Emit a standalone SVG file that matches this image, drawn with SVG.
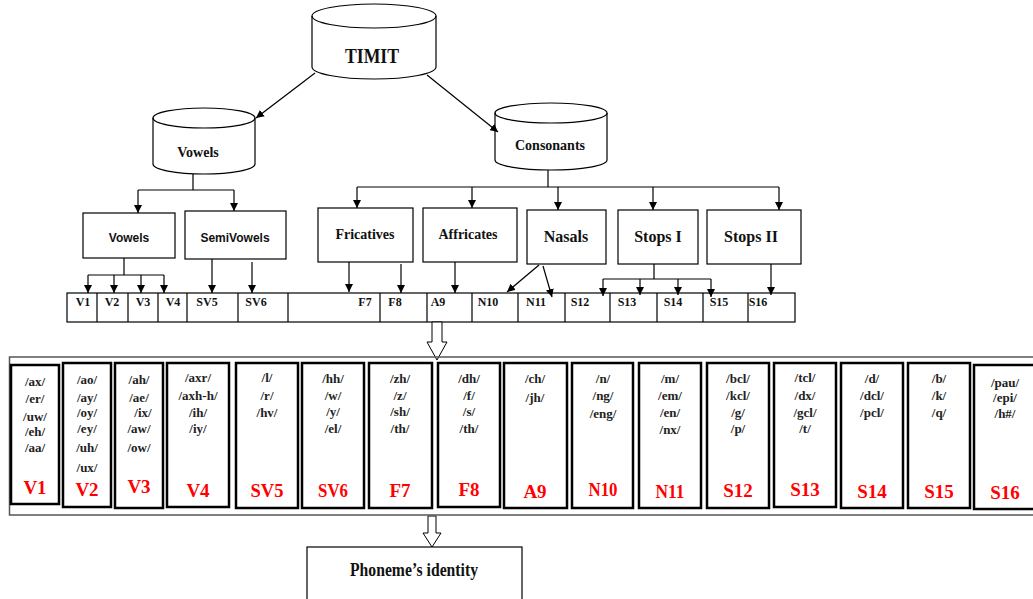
<svg xmlns="http://www.w3.org/2000/svg" width="1033" height="599" viewBox="0 0 1033 599">
<style>
.ln{stroke:#000;stroke-width:1.2;fill:none}
.ar{stroke:#000;stroke-width:1.2;fill:none;marker-end:url(#ah)}
.shp{fill:#fff;stroke:#000;stroke-width:1.2}
.t{font-family:"Liberation Serif","Times New Roman",serif;font-weight:bold;fill:#111;text-anchor:middle}
.s{font-family:"Liberation Sans",Arial,sans-serif;font-weight:bold;fill:#111;text-anchor:middle;font-size:12px}
.cell{font-family:"Liberation Serif","Times New Roman",serif;font-weight:bold;fill:#111;font-size:12px;text-anchor:middle}
.ph{font-family:"Liberation Serif","Times New Roman",serif;font-weight:bold;fill:#222;font-size:13px;text-anchor:middle}
.red{font-family:"Liberation Serif","Times New Roman",serif;font-weight:bold;fill:#ff0000;font-size:19px;text-anchor:middle}
.ib{fill:#fff;stroke:#000;stroke-width:2.5}
.hollow{fill:#fff;stroke:#000;stroke-width:1}
</style>
<defs>
<marker id="ah" viewBox="0 0 10 10" refX="10" refY="5" markerWidth="8" markerHeight="8" markerUnits="userSpaceOnUse" orient="auto">
<path d="M0,0 L10,5 L0,10 Z" fill="#000"/>
</marker>
</defs>
<rect width="1033" height="599" fill="#fff"/>

<g id="timit">
<path class="shp" d="M312,16 A62,12 0 0,1 436,16 L436,67 A62,12 0 0,1 312,67 Z"/>
<path class="ln" d="M312,16 A62,12 0 0,0 436,16"/>
<text class="t" x="372" y="63" font-size="22" textLength="54" lengthAdjust="spacingAndGlyphs">TIMIT</text>
</g>
<g id="vowels-db">
<path class="shp" d="M153,118 A51,10 0 0,1 255,118 L255,164 A51,10 0 0,1 153,164 Z"/>
<path class="ln" d="M153,118 A51,10 0 0,0 255,118"/>
<text class="t" x="198" y="157" font-size="14">Vowels</text>
</g>
<g id="consonants-db">
<path class="shp" d="M495,113 A56,10 0 0,1 607,113 L607,160 A56,10 0 0,1 495,160 Z"/>
<path class="ln" d="M495,113 A56,10 0 0,0 607,113"/>
<text class="t" x="550" y="150" font-size="14">Consonants</text>
</g>

<g id="vowels-box"><rect class="shp" x="83" y="213" width="92" height="45"/><text class="s" x="129" y="242">Vowels</text></g>
<g id="semivowels-box"><rect class="shp" x="185" y="211" width="101" height="48"/><text class="s" x="235" y="242">SemiVowels</text></g>
<g id="fricatives-box"><rect class="shp" x="318" y="208" width="95" height="54"/><text class="t" x="365" y="239" font-size="14">Fricatives</text></g>
<g id="affricates-box"><rect class="shp" x="423" y="208" width="94" height="54"/><text class="t" x="468" y="239" font-size="14">Affricates</text></g>
<g id="nasals-box"><rect class="shp" x="527" y="210" width="79" height="54"/><text class="t" x="566" y="242" font-size="16">Nasals</text></g>
<g id="stops1-box"><rect class="shp" x="618" y="210" width="80" height="54"/><text class="t" x="658" y="242" font-size="16">Stops I</text></g>
<g id="stops2-box"><rect class="shp" x="707" y="210" width="94" height="54"/><text class="t" x="751" y="242" font-size="16">Stops II</text></g>

<g id="class-row">
<rect class="shp" x="67" y="293" width="728" height="29"/>
<path class="ln" d="M97,293V322M128,293V322M158,293V322M187,293V322M238,293V322M288,293V322M380,293V322M427,293V322M472,293V322M518,293V322M565,293V322M610,293V322M657,293V322M703,293V322M748,293V322"/>
<text class="cell" x="83" y="306">V1</text>
<text class="cell" x="112" y="306">V2</text>
<text class="cell" x="143" y="306">V3</text>
<text class="cell" x="173" y="306">V4</text>
<text class="cell" x="207" y="306">SV5</text>
<text class="cell" x="256" y="306">SV6</text>
<text class="cell" x="365" y="306">F7</text>
<text class="cell" x="395" y="306">F8</text>
<text class="cell" x="438" y="306">A9</text>
<text class="cell" x="488" y="306">N10</text>
<text class="cell" x="536" y="306">N11</text>
<text class="cell" x="580" y="306">S12</text>
<text class="cell" x="627" y="306">S13</text>
<text class="cell" x="673" y="306">S14</text>
<text class="cell" x="719" y="306">S15</text>
<text class="cell" x="758" y="306">S16</text>
</g>

<g id="connectors">
<line class="ar" x1="315" y1="73" x2="256" y2="118"/>
<line class="ar" x1="427" y1="75" x2="498" y2="132"/>
<path class="ln" d="M193,174V190M138,190H234M548,170V187M357,187H779"/>
<line class="ar" x1="138" y1="190" x2="138" y2="213"/>
<line class="ar" x1="234" y1="190" x2="234" y2="211"/>
<line class="ar" x1="357" y1="187" x2="357" y2="208"/>
<line class="ar" x1="472" y1="187" x2="472" y2="208"/>
<line class="ar" x1="558" y1="187" x2="558" y2="210"/>
<line class="ar" x1="653" y1="187" x2="653" y2="210"/>
<line class="ar" x1="779" y1="187" x2="779" y2="210"/>
<path class="ln" d="M124,258V275M88,275H164"/>
<line class="ar" x1="88" y1="275" x2="88" y2="293"/>
<line class="ar" x1="114" y1="275" x2="114" y2="293"/>
<line class="ar" x1="141" y1="275" x2="141" y2="293"/>
<line class="ar" x1="164" y1="275" x2="164" y2="293"/>
<line class="ar" x1="212" y1="259" x2="212" y2="293"/>
<line class="ar" x1="252" y1="262" x2="252" y2="293"/>
<line class="ar" x1="349" y1="262" x2="349" y2="292"/>
<line class="ar" x1="401" y1="264" x2="401" y2="293"/>
<line class="ar" x1="455" y1="262" x2="455" y2="293"/>
<line class="ar" x1="539" y1="265" x2="507" y2="292"/>
<line class="ar" x1="543" y1="266" x2="552" y2="297"/>
<path class="ln" d="M654,264V279M603,279H711"/>
<line class="ar" x1="603" y1="279" x2="603" y2="296"/>
<line class="ar" x1="640" y1="279" x2="640" y2="295"/>
<line class="ar" x1="678" y1="279" x2="678" y2="295"/>
<line class="ar" x1="711" y1="279" x2="711" y2="297"/>
<line class="ar" x1="771" y1="264" x2="771" y2="295"/>
<path class="hollow" d="M432,322H442V342H447L437,360L427,342H432Z"/>
<path class="hollow" d="M428,516H436V533H441L432,547L423,533H428Z"/>
</g>

<g id="groups-panel">
<rect x="9.5" y="357" width="1040" height="158" fill="none" stroke="#555" stroke-width="1.5"/>
</g>

<g id="V1"><rect class="ib" x="11" y="365" width="48" height="139"/>
<text class="ph" x="35" y="385.5">/ax/</text><text class="ph" x="35" y="402.5">/er/</text><text class="ph" x="35" y="420.5">/uw/</text><text class="ph" x="35" y="435.5">/eh/</text><text class="ph" x="35" y="451.5">/aa/</text>
<text class="red" x="35" y="494">V1</text></g>
<g id="V2"><rect class="ib" x="63" y="363" width="48" height="144"/>
<text class="ph" x="87" y="383.5">/ao/</text><text class="ph" x="87" y="401.5">/ay/</text><text class="ph" x="87" y="416.5">/oy/</text><text class="ph" x="87" y="432.5">/ey/</text><text class="ph" x="87" y="451.5">/uh/</text><text class="ph" x="87" y="471.5">/ux/</text>
<text class="red" x="87" y="496">V2</text></g>
<g id="V3"><rect class="ib" x="115" y="363" width="48" height="145"/>
<text class="ph" x="139" y="383.5">/ah/</text><text class="ph" x="139" y="401.5">/ae/</text><text class="ph" x="143" y="416.5">/ix/</text><text class="ph" x="139" y="432.5">/aw/</text><text class="ph" x="139" y="451.5">/ow/</text>
<text class="red" x="139" y="493">V3</text></g>
<g id="V4"><rect class="ib" x="167" y="363" width="62" height="144"/>
<text class="ph" x="198" y="381.5">/axr/</text><text class="ph" x="198" y="399.5">/axh-h/</text><text class="ph" x="198" y="416.5">/ih/</text><text class="ph" x="198" y="432.5">/iy/</text>
<text class="red" x="198" y="497">V4</text></g>
<g id="SV5"><rect class="ib" x="236" y="363" width="62" height="145"/>
<text class="ph" x="267" y="381.5">/l/</text><text class="ph" x="267" y="399.5">/r/</text><text class="ph" x="267" y="416.5">/hv/</text>
<text class="red" x="267" y="497" textLength="33" lengthAdjust="spacingAndGlyphs">SV5</text></g>
<g id="SV6"><rect class="ib" x="302" y="363" width="62" height="145"/>
<text class="ph" x="333" y="382.5">/hh/</text><text class="ph" x="333" y="399.5">/w/</text><text class="ph" x="333" y="415.5">/y/</text><text class="ph" x="333" y="432.5">/el/</text>
<text class="red" x="333" y="497" textLength="30" lengthAdjust="spacingAndGlyphs">SV6</text></g>
<g id="F7"><rect class="ib" x="369" y="363" width="63" height="145"/>
<text class="ph" x="400" y="382.5">/zh/</text><text class="ph" x="400" y="399.5">/z/</text><text class="ph" x="400" y="415.5">/sh/</text><text class="ph" x="400" y="432.5">/th/</text>
<text class="red" x="400" y="497">F7</text></g>
<g id="F8"><rect class="ib" x="438" y="363" width="62" height="144"/>
<text class="ph" x="469" y="382.5">/dh/</text><text class="ph" x="469" y="399.5">/f/</text><text class="ph" x="469" y="415.5">/s/</text><text class="ph" x="469" y="432.5">/th/</text>
<text class="red" x="469" y="496">F8</text></g>
<g id="A9"><rect class="ib" x="504" y="363" width="63" height="145"/>
<text class="ph" x="535" y="382.5">/ch/</text><text class="ph" x="535" y="401.5">/jh/</text>
<text class="red" x="535" y="498">A9</text></g>
<g id="N10"><rect class="ib" x="572" y="363" width="61" height="145"/>
<text class="ph" x="603" y="382.5">/n/</text><text class="ph" x="603" y="399.5">/ng/</text><text class="ph" x="603" y="417.5">/eng/</text>
<text class="red" x="603" y="496" textLength="29" lengthAdjust="spacingAndGlyphs">N10</text></g>
<g id="N11"><rect class="ib" x="639" y="363" width="62" height="145"/>
<text class="ph" x="670" y="382.5">/m/</text><text class="ph" x="670" y="399.5">/em/</text><text class="ph" x="670" y="416.5">/en/</text><text class="ph" x="670" y="433.5">/nx/</text>
<text class="red" x="670" y="498" textLength="29" lengthAdjust="spacingAndGlyphs">N11</text></g>
<g id="S12"><rect class="ib" x="707" y="363" width="62" height="145"/>
<text class="ph" x="738" y="382.5">/bcl/</text><text class="ph" x="738" y="399.5">/kcl/</text><text class="ph" x="738" y="416.5">/g/</text><text class="ph" x="738" y="432.5">/p/</text>
<text class="red" x="738" y="497">S12</text></g>
<g id="S13"><rect class="ib" x="774" y="363" width="62" height="144"/>
<text class="ph" x="805" y="381.5">/tcl/</text><text class="ph" x="805" y="399.5">/dx/</text><text class="ph" x="805" y="416.5">/gcl/</text><text class="ph" x="805" y="432.5">/t/</text>
<text class="red" x="805" y="496">S13</text></g>
<g id="S14"><rect class="ib" x="841" y="363" width="62" height="145"/>
<text class="ph" x="872" y="382.5">/d/</text><text class="ph" x="872" y="399.5">/dcl/</text><text class="ph" x="872" y="416.5">/pcl/</text>
<text class="red" x="872" y="498">S14</text></g>
<g id="S15"><rect class="ib" x="908" y="363" width="62" height="145"/>
<text class="ph" x="939" y="382.5">/b/</text><text class="ph" x="939" y="399.5">/k/</text><text class="ph" x="939" y="416.5">/q/</text>
<text class="red" x="939" y="498">S15</text></g>
<g id="S16"><rect class="ib" x="974" y="365" width="66" height="144"/>
<text class="ph" x="1005" y="386.5">/pau/</text><text class="ph" x="1005" y="401.5">/epi/</text><text class="ph" x="1005" y="417.5">/h#/</text>
<text class="red" x="1005" y="499">S16</text></g>

<g id="phoneme-identity">
<rect class="shp" x="307" y="547" width="215" height="70"/>
<text class="t" x="414" y="576" font-size="18" textLength="128" lengthAdjust="spacingAndGlyphs">Phoneme’s identity</text>
</g>
</svg>
